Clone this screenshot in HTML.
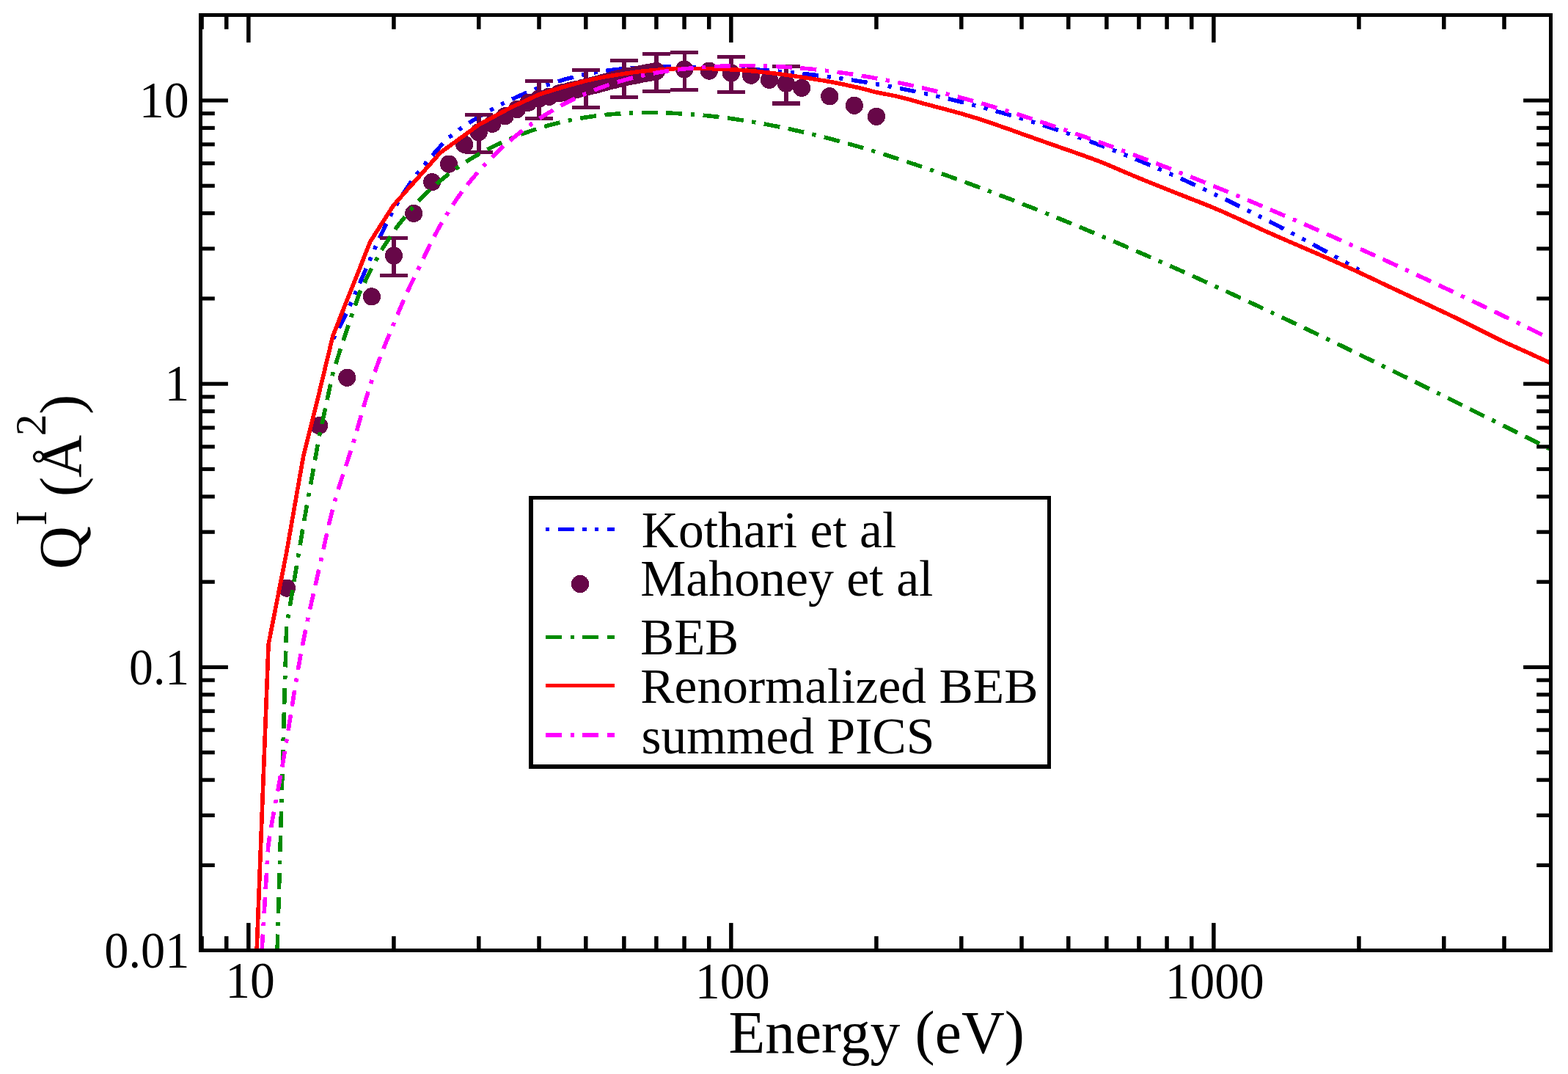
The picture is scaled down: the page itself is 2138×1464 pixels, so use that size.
<!DOCTYPE html>
<html lang="en"><head><meta charset="utf-8"><title>Ionization cross section</title>
<style>html,body{margin:0;padding:0;background:#fff;}svg{display:block;}text{font-family:'Liberation Serif',serif;fill:#000;}</style></head><body>
<svg width="2138" height="1464" viewBox="0 0 2138 1464">
<rect x="0" y="0" width="2138" height="1464" fill="#fff"/>
<defs><clipPath id="clip"><rect x="273.5" y="20.5" width="1841.0" height="1275.0"/></clipPath></defs>
<g clip-path="url(#clip)" fill="none" stroke-linejoin="round" stroke-linecap="butt" shape-rendering="crispEdges">
<path d="M454.5,462.0 L454.5,462.0 L458.5,454.7 L462.5,447.1 L466.5,439.1 L470.5,430.8 L474.5,422.2 L478.5,413.5 L482.5,404.5 L486.5,395.4 L490.5,386.2 L494.5,377.0 L498.5,367.7 L502.5,358.4 L506.5,349.3 L510.5,340.2 L514.5,331.2 L518.5,322.4 L522.5,313.9 L526.5,305.6 L530.5,297.6 L534.5,290.0 L538.5,282.7 L542.5,275.7 L546.5,269.1 L550.5,262.8 L554.5,256.7 L558.5,250.9 L562.5,245.4 L566.5,240.0 L570.5,234.8 L574.5,229.8 L578.5,224.9 L582.5,220.1 L586.5,215.4 L590.5,210.7 L594.5,206.1 L598.5,201.6 L602.5,197.2 L606.5,193.0 L610.5,189.1 L614.5,185.6 L618.5,182.3 L622.5,179.2 L626.5,176.4 L630.5,173.6 L634.5,170.9 L638.5,168.3 L642.5,165.7 L646.5,163.2 L650.5,160.7 L654.5,158.3 L658.5,156.0 L662.5,153.7 L666.5,151.4 L670.5,149.2 L674.5,147.0 L678.5,144.9 L682.5,142.9 L686.5,140.8 L690.5,138.9 L694.5,136.9 L698.5,135.1 L702.5,133.2 L706.5,131.4 L710.5,129.7 L714.5,127.9 L718.5,126.3 L722.5,124.6 L726.5,123.0 L730.5,121.5 L734.5,119.9 L738.5,118.5 L742.5,117.0 L746.5,115.6 L750.5,114.3 L754.5,113.0 L758.5,111.7 L762.5,110.5 L766.5,109.3 L770.5,108.1 L774.5,107.0 L778.5,106.0 L782.5,104.9 L786.5,104.0 L790.5,103.0 L794.5,102.1 L798.5,101.3 L802.5,100.5 L806.5,99.7 L810.5,99.0 L814.5,98.3 L818.5,97.6 L822.5,97.0 L826.5,96.4 L830.5,95.9 L834.5,95.4 L838.5,94.9 L842.5,94.5 L846.5,94.1 L850.5,93.7 L854.5,93.3 L858.5,93.0 L862.5,92.7 L866.5,92.5 L870.5,92.2 L874.5,92.0 L878.5,91.8 L882.5,91.7 L886.5,91.5 L890.5,91.4 L894.5,91.3 L898.5,91.2 L902.5,91.2 L906.5,91.1 L910.5,91.1 L914.5,91.1 L918.5,91.1 L922.5,91.1 L926.5,91.1 L930.5,91.2 L934.5,91.2 L938.5,91.3 L942.5,91.3 L946.5,91.4 L950.5,91.5 L954.5,91.6 L958.5,91.7 L962.5,91.8 L966.5,91.9 L970.5,92.1 L974.5,92.2 L978.5,92.3 L982.5,92.5 L986.5,92.6 L990.5,92.8 L994.5,93.0 L998.5,93.2 L1002.5,93.4 L1006.5,93.6 L1010.5,93.8 L1014.5,94.0 L1018.5,94.2 L1022.5,94.5 L1026.5,94.7 L1030.5,95.0 L1034.5,95.2 L1038.5,95.5 L1042.5,95.8 L1046.5,96.1 L1050.5,96.4 L1054.5,96.7 L1058.5,97.0 L1062.5,97.4 L1066.5,97.7 L1070.5,98.1 L1074.5,98.4 L1078.5,98.8 L1082.5,99.2 L1086.5,99.6 L1090.5,100.0 L1094.5,100.4 L1098.5,100.9 L1102.5,101.3 L1106.5,101.8 L1110.5,102.2 L1114.5,102.7 L1118.5,103.2 L1122.5,103.7 L1126.5,104.2 L1130.5,104.7 L1134.5,105.3 L1138.5,105.8 L1142.5,106.4 L1146.5,106.9 L1150.5,107.5 L1154.5,108.1 L1158.5,108.7 L1162.5,109.3 L1166.5,109.9 L1170.5,110.5 L1174.5,111.2 L1178.5,111.8 L1182.5,112.5 L1186.5,113.2 L1190.5,113.8 L1194.5,114.5 L1198.5,115.2 L1202.5,115.9 L1206.5,116.7 L1210.5,117.4 L1214.5,118.1 L1218.5,118.9 L1222.5,119.6 L1226.5,120.4 L1230.5,121.2 L1234.5,122.0 L1238.5,122.8 L1242.5,123.6 L1246.5,124.4 L1250.5,125.3 L1254.5,126.1 L1258.5,127.0 L1262.5,127.8 L1266.5,128.7 L1270.5,129.6 L1274.5,130.5 L1278.5,131.4 L1282.5,132.3 L1286.5,133.2 L1290.5,134.1 L1294.5,135.1 L1298.5,136.0 L1302.5,137.0 L1306.5,138.0 L1310.5,139.0 L1314.5,140.0 L1318.5,141.0 L1322.5,142.0 L1326.5,143.0 L1330.5,144.0 L1334.5,145.1 L1338.5,146.1 L1342.5,147.2 L1346.5,148.3 L1350.5,149.4 L1354.5,150.5 L1358.5,151.6 L1362.5,152.7 L1366.5,153.8 L1370.5,155.0 L1374.5,156.1 L1378.5,157.3 L1382.5,158.5 L1386.5,159.6 L1390.5,160.8 L1394.5,162.1 L1398.5,163.3 L1402.5,164.5 L1406.5,165.7 L1410.5,167.0 L1414.5,168.2 L1418.5,169.5 L1422.5,170.8 L1426.5,172.1 L1430.5,173.4 L1434.5,174.7 L1438.5,176.0 L1442.5,177.4 L1446.5,178.7 L1450.5,180.1 L1454.5,181.5 L1458.5,182.8 L1462.5,184.2 L1466.5,185.6 L1470.5,187.0 L1474.5,188.5 L1478.5,189.9 L1482.5,191.4 L1486.5,192.8 L1490.5,194.3 L1494.5,195.8 L1498.5,197.3 L1502.5,198.8 L1506.5,200.3 L1510.5,201.8 L1514.5,203.4 L1518.5,204.9 L1522.5,206.5 L1526.5,208.1 L1530.5,209.7 L1534.5,211.3 L1538.5,212.9 L1542.5,214.5 L1546.5,216.1 L1550.5,217.8 L1554.5,219.4 L1558.5,221.1 L1562.5,222.7 L1566.5,224.4 L1570.5,226.1 L1574.5,227.8 L1578.5,229.5 L1582.5,231.3 L1586.5,233.0 L1590.5,234.7 L1594.5,236.5 L1598.5,238.3 L1602.5,240.0 L1606.5,241.8 L1610.5,243.6 L1614.5,245.4 L1618.5,247.2 L1622.5,249.1 L1626.5,250.9 L1630.5,252.7 L1634.5,254.6 L1638.5,256.4 L1642.5,258.3 L1646.5,260.2 L1650.5,262.1 L1654.5,264.0 L1658.5,265.9 L1662.5,267.8 L1666.5,269.7 L1670.5,271.6 L1674.5,273.6 L1678.5,275.5 L1682.5,277.5 L1686.5,279.5 L1690.5,281.4 L1694.5,283.4 L1698.5,285.4 L1702.5,287.4 L1706.5,289.4 L1710.5,291.4 L1714.5,293.4 L1718.5,295.5 L1722.5,297.5 L1726.5,299.6 L1730.5,301.6 L1734.5,303.7 L1738.5,305.7 L1742.5,307.8 L1746.5,309.9 L1750.5,312.0 L1754.5,314.1 L1758.5,316.2 L1762.5,318.3 L1766.5,320.4 L1770.5,322.6 L1774.5,324.7 L1778.5,326.8 L1782.5,329.0 L1786.5,331.1 L1790.5,333.3 L1794.5,335.5 L1798.5,337.7 L1802.5,339.8 L1806.5,342.0 L1810.5,344.2 L1814.5,346.4 L1818.5,348.6 L1822.5,350.8 L1826.5,353.1 L1830.5,355.3 L1834.5,357.5 L1838.5,359.8 L1842.5,362.0 L1846.5,364.2 L1850.5,366.5 L1853.0,367.9" stroke="#0000ff" stroke-width="5.6" stroke-dasharray="5.20 11.59 21.99 11.59 5.20 11.59" stroke-dashoffset="0.0"/>
<g fill="#670748" stroke="none"><rect x="534.3" y="324.6" width="5.6" height="50.8"/><rect x="518.1" y="322.0" width="38" height="5.2"/><rect x="518.1" y="372.8" width="38" height="5.2"/><rect x="650.2" y="156.6" width="5.6" height="50.9"/><rect x="634.0" y="154.0" width="38" height="5.2"/><rect x="634.0" y="204.9" width="38" height="5.2"/><rect x="732.4" y="110.7" width="5.6" height="50.9"/><rect x="716.2" y="108.1" width="38" height="5.2"/><rect x="716.2" y="159.0" width="38" height="5.2"/><rect x="796.2" y="95.6" width="5.6" height="50.5"/><rect x="780.0" y="93.0" width="38" height="5.2"/><rect x="780.0" y="143.5" width="38" height="5.2"/><rect x="848.3" y="82.1" width="5.6" height="50.1"/><rect x="832.1" y="79.5" width="38" height="5.2"/><rect x="832.1" y="129.6" width="38" height="5.2"/><rect x="892.3" y="73.4" width="5.6" height="50.8"/><rect x="876.1" y="70.8" width="38" height="5.2"/><rect x="876.1" y="121.6" width="38" height="5.2"/><rect x="930.5" y="71.3" width="5.6" height="51.0"/><rect x="914.3" y="68.7" width="38" height="5.2"/><rect x="914.3" y="119.7" width="38" height="5.2"/><rect x="994.3" y="77.4" width="5.6" height="47.8"/><rect x="978.1" y="74.8" width="38" height="5.2"/><rect x="978.1" y="122.6" width="38" height="5.2"/><rect x="1069.2" y="90.5" width="5.6" height="50.5"/><rect x="1053.0" y="87.9" width="38" height="5.2"/><rect x="1053.0" y="138.4" width="38" height="5.2"/><circle cx="391.0" cy="801.6" r="12.1"/><circle cx="435.1" cy="580.2" r="12.1"/><circle cx="473.2" cy="514.8" r="12.1"/><circle cx="506.9" cy="404.3" r="12.1"/><circle cx="537.0" cy="348.5" r="12.1"/><circle cx="564.2" cy="290.9" r="12.1"/><circle cx="589.1" cy="248.1" r="12.1"/><circle cx="612.0" cy="223.6" r="12.1"/><circle cx="633.1" cy="196.8" r="12.1"/><circle cx="652.8" cy="180.2" r="12.1"/><circle cx="671.3" cy="168.8" r="12.1"/><circle cx="688.6" cy="158.4" r="12.1"/><circle cx="704.9" cy="149.0" r="12.1"/><circle cx="720.4" cy="139.8" r="12.1"/><circle cx="735.1" cy="134.3" r="12.1"/><circle cx="749.0" cy="131.7" r="12.1"/><circle cx="762.3" cy="127.3" r="12.1"/><circle cx="768.7" cy="125.8" r="12.1"/><circle cx="775.0" cy="124.4" r="12.1"/><circle cx="781.1" cy="123.0" r="12.1"/><circle cx="787.2" cy="121.7" r="12.1"/><circle cx="793.0" cy="120.3" r="12.1"/><circle cx="798.8" cy="119.0" r="12.1"/><circle cx="804.5" cy="117.5" r="12.1"/><circle cx="810.0" cy="116.1" r="12.1"/><circle cx="815.5" cy="114.7" r="12.1"/><circle cx="820.8" cy="113.3" r="12.1"/><circle cx="826.1" cy="111.9" r="12.1"/><circle cx="831.2" cy="110.5" r="12.1"/><circle cx="836.3" cy="109.2" r="12.1"/><circle cx="841.2" cy="107.9" r="12.1"/><circle cx="846.1" cy="106.7" r="12.1"/><circle cx="850.9" cy="105.4" r="12.1"/><circle cx="855.6" cy="104.5" r="12.1"/><circle cx="860.3" cy="103.6" r="12.1"/><circle cx="864.9" cy="102.7" r="12.1"/><circle cx="869.4" cy="101.9" r="12.1"/><circle cx="873.8" cy="101.0" r="12.1"/><circle cx="878.2" cy="100.2" r="12.1"/><circle cx="882.5" cy="99.4" r="12.1"/><circle cx="886.7" cy="98.6" r="12.1"/><circle cx="890.9" cy="97.8" r="12.1"/><circle cx="895.0" cy="97.0" r="12.1"/><circle cx="933.1" cy="94.6" r="12.1"/><circle cx="966.8" cy="96.6" r="12.1"/><circle cx="996.9" cy="99.6" r="12.1"/><circle cx="1024.1" cy="102.7" r="12.1"/><circle cx="1049.0" cy="108.9" r="12.1"/><circle cx="1071.9" cy="113.9" r="12.1"/><circle cx="1093.1" cy="119.9" r="12.1"/><circle cx="1131.2" cy="131.3" r="12.1"/><circle cx="1164.9" cy="143.8" r="12.1"/><circle cx="1195.0" cy="158.8" r="12.1"/></g>
<path d="M378.1,1295.5 L390.7,854.0 L413.6,716.0 L434.8,597.5 L454.5,506.0 L472.9,449.5 L490.2,399.2 L506.6,365.7 L522.0,338.1 L536.7,315.7 L536.7,315.7 L540.7,310.2 L544.7,304.9 L548.7,299.8 L552.7,294.8 L556.7,290.0 L560.7,285.3 L564.7,280.8 L568.7,276.4 L572.7,272.2 L576.7,268.1 L580.7,264.1 L584.7,260.3 L588.7,256.5 L592.7,252.9 L596.7,249.4 L600.7,246.1 L604.7,242.8 L608.7,239.6 L612.7,236.5 L616.7,233.5 L620.7,230.6 L624.7,227.8 L628.7,225.1 L632.7,222.4 L636.7,219.8 L640.7,217.3 L644.7,214.9 L648.7,212.5 L652.7,210.2 L656.7,208.0 L660.7,205.8 L664.7,203.7 L668.7,201.6 L672.7,199.6 L676.7,197.7 L680.7,195.8 L684.7,193.9 L688.7,192.1 L692.7,190.4 L696.7,188.7 L700.7,187.1 L704.7,185.5 L708.7,183.9 L712.7,182.4 L716.7,180.9 L720.7,179.5 L724.7,178.1 L728.7,176.8 L732.7,175.5 L736.7,174.3 L740.7,173.1 L744.7,171.9 L748.7,170.8 L752.7,169.7 L756.7,168.7 L760.7,167.7 L764.7,166.7 L768.7,165.8 L772.7,164.9 L776.7,164.0 L780.7,163.2 L784.7,162.5 L788.7,161.7 L792.7,161.0 L796.7,160.3 L800.7,159.7 L804.7,159.1 L808.7,158.5 L812.7,158.0 L816.7,157.5 L820.7,157.0 L824.7,156.6 L828.7,156.2 L832.7,155.8 L836.7,155.5 L840.7,155.2 L844.7,154.9 L848.7,154.6 L852.7,154.4 L856.7,154.2 L860.7,154.0 L864.7,153.9 L868.7,153.8 L872.7,153.7 L876.7,153.6 L880.7,153.6 L884.7,153.6 L888.7,153.6 L892.7,153.6 L896.7,153.7 L900.7,153.7 L904.7,153.8 L908.7,154.0 L912.7,154.1 L916.7,154.3 L920.7,154.5 L924.7,154.7 L928.7,154.9 L932.7,155.1 L936.7,155.4 L940.7,155.7 L944.7,156.0 L948.7,156.3 L952.7,156.7 L956.7,157.0 L960.7,157.4 L964.7,157.8 L968.7,158.2 L972.7,158.7 L976.7,159.1 L980.7,159.6 L984.7,160.1 L988.7,160.6 L992.7,161.1 L996.7,161.6 L1000.7,162.2 L1004.7,162.8 L1008.7,163.4 L1012.7,164.0 L1016.7,164.6 L1020.7,165.2 L1024.7,165.9 L1028.7,166.6 L1032.7,167.3 L1036.7,168.0 L1040.7,168.7 L1044.7,169.4 L1048.7,170.2 L1052.7,171.0 L1056.7,171.8 L1060.7,172.6 L1064.7,173.4 L1068.7,174.2 L1072.7,175.0 L1076.7,175.9 L1080.7,176.8 L1084.7,177.7 L1088.7,178.6 L1092.7,179.5 L1096.7,180.4 L1100.7,181.4 L1104.7,182.3 L1108.7,183.3 L1112.7,184.3 L1116.7,185.3 L1120.7,186.3 L1124.7,187.3 L1128.7,188.3 L1132.7,189.4 L1136.7,190.4 L1140.7,191.5 L1144.7,192.6 L1148.7,193.7 L1152.7,194.8 L1156.7,195.9 L1160.7,197.1 L1164.7,198.2 L1168.7,199.3 L1172.7,200.5 L1176.7,201.7 L1180.7,202.9 L1184.7,204.1 L1188.7,205.3 L1192.7,206.5 L1196.7,207.7 L1200.7,209.0 L1204.7,210.2 L1208.7,211.5 L1212.7,212.7 L1216.7,214.0 L1220.7,215.3 L1224.7,216.6 L1228.7,217.9 L1232.7,219.2 L1236.7,220.5 L1240.7,221.9 L1244.7,223.2 L1248.7,224.5 L1252.7,225.9 L1256.7,227.3 L1260.7,228.6 L1264.7,230.0 L1268.7,231.4 L1272.7,232.8 L1276.7,234.2 L1280.7,235.6 L1284.7,237.0 L1288.7,238.4 L1292.7,239.9 L1296.7,241.3 L1300.7,242.7 L1304.7,244.2 L1308.7,245.6 L1312.7,247.1 L1316.7,248.6 L1320.7,250.0 L1324.7,251.5 L1328.7,253.0 L1332.7,254.5 L1336.7,256.0 L1340.7,257.5 L1344.7,259.0 L1348.7,260.5 L1352.7,262.0 L1356.7,263.5 L1360.7,265.0 L1364.7,266.6 L1368.7,268.1 L1372.7,269.6 L1376.7,271.2 L1380.7,272.7 L1384.7,274.3 L1388.7,275.8 L1392.7,277.4 L1396.7,279.0 L1400.7,280.6 L1404.7,282.1 L1408.7,283.7 L1412.7,285.3 L1416.7,286.9 L1420.7,288.5 L1424.7,290.1 L1428.7,291.7 L1432.7,293.3 L1436.7,294.9 L1440.7,296.6 L1444.7,298.2 L1448.7,299.8 L1452.7,301.4 L1456.7,303.1 L1460.7,304.7 L1464.7,306.4 L1468.7,308.0 L1472.7,309.7 L1476.7,311.3 L1480.7,313.0 L1484.7,314.7 L1488.7,316.4 L1492.7,318.0 L1496.7,319.7 L1500.7,321.4 L1504.7,323.1 L1508.7,324.8 L1512.7,326.5 L1516.7,328.2 L1520.7,329.9 L1524.7,331.6 L1528.7,333.3 L1532.7,335.0 L1536.7,336.8 L1540.7,338.5 L1544.7,340.2 L1548.7,342.0 L1552.7,343.7 L1556.7,345.4 L1560.7,347.2 L1564.7,348.9 L1568.7,350.7 L1572.7,352.4 L1576.7,354.2 L1580.7,356.0 L1584.7,357.7 L1588.7,359.5 L1592.7,361.3 L1596.7,363.1 L1600.7,364.8 L1604.7,366.6 L1608.7,368.4 L1612.7,370.2 L1616.7,372.0 L1620.7,373.8 L1624.7,375.6 L1628.7,377.4 L1632.7,379.2 L1636.7,381.0 L1640.7,382.8 L1644.7,384.7 L1648.7,386.5 L1652.7,388.3 L1656.7,390.1 L1660.7,392.0 L1664.7,393.8 L1668.7,395.6 L1672.7,397.5 L1676.7,399.3 L1680.7,401.2 L1684.7,403.0 L1688.7,404.9 L1692.7,406.7 L1696.7,408.6 L1700.7,410.4 L1704.7,412.3 L1708.7,414.2 L1712.7,416.0 L1716.7,417.9 L1720.7,419.8 L1724.7,421.6 L1728.7,423.5 L1732.7,425.4 L1736.7,427.3 L1740.7,429.2 L1744.7,431.1 L1748.7,433.0 L1752.7,434.8 L1756.7,436.7 L1760.7,438.6 L1764.7,440.5 L1768.7,442.4 L1772.7,444.4 L1776.7,446.3 L1780.7,448.2 L1784.7,450.1 L1788.7,452.0 L1792.7,453.9 L1796.7,455.8 L1800.7,457.7 L1804.7,459.7 L1808.7,461.6 L1812.7,463.5 L1816.7,465.4 L1820.7,467.4 L1824.7,469.3 L1828.7,471.2 L1832.7,473.2 L1836.7,475.1 L1840.7,477.1 L1844.7,479.0 L1848.7,480.9 L1852.7,482.9 L1856.7,484.8 L1860.7,486.8 L1864.7,488.7 L1868.7,490.7 L1872.7,492.6 L1876.7,494.6 L1880.7,496.5 L1884.7,498.5 L1888.7,500.5 L1892.7,502.4 L1896.7,504.4 L1900.7,506.4 L1904.7,508.3 L1908.7,510.3 L1912.7,512.3 L1916.7,514.2 L1920.7,516.2 L1924.7,518.2 L1928.7,520.1 L1932.7,522.1 L1936.7,524.1 L1940.7,526.1 L1944.7,528.0 L1948.7,530.0 L1952.7,532.0 L1956.7,534.0 L1960.7,536.0 L1964.7,537.9 L1968.7,539.9 L1972.7,541.9 L1976.7,543.9 L1980.7,545.9 L1984.7,547.9 L1988.7,549.8 L1992.7,551.8 L1996.7,553.8 L2000.7,555.8 L2004.7,557.8 L2008.7,559.8 L2012.7,561.8 L2016.7,563.8 L2020.7,565.8 L2024.7,567.8 L2028.7,569.8 L2032.7,571.7 L2036.7,573.7 L2040.7,575.7 L2044.7,577.7 L2048.7,579.7 L2052.7,581.7 L2056.7,583.7 L2060.7,585.7 L2064.7,587.7 L2068.7,589.7 L2072.7,591.7 L2076.7,593.7 L2080.7,595.7 L2084.7,597.7 L2088.7,599.7 L2092.7,601.7 L2096.7,603.7 L2100.7,605.7 L2104.7,607.7 L2108.7,609.7 L2112.7,611.7 L2114.5,612.6" stroke="#008b00" stroke-width="5.6" stroke-dasharray="21.99 11.59 5.20 11.59 21.99 11.59" stroke-dashoffset="0.0"/>
<path d="M350.1,1295.5 L366.1,878.1 L390.7,753.0 L413.6,622.3 L434.8,537.0 L454.0,457.5 L505.0,329.1 L536.5,279.9 L600.4,208.1 L652.5,170.4 L696.6,146.5 L734.7,128.9 L768.4,118.5 L798.5,110.3 L798.5,110.3 L802.5,109.4 L806.5,108.5 L810.5,107.6 L814.5,106.8 L818.5,105.9 L822.5,105.2 L826.5,104.4 L830.5,103.7 L834.5,103.0 L838.5,102.4 L842.5,101.8 L846.5,101.2 L850.5,100.6 L854.5,100.0 L858.5,99.4 L862.5,98.8 L866.5,98.3 L870.5,97.7 L874.5,97.3 L878.5,96.9 L882.5,96.5 L886.5,96.2 L890.5,95.8 L894.5,95.5 L898.5,95.2 L902.5,94.8 L906.5,94.4 L910.5,94.1 L914.5,93.9 L918.5,93.8 L922.5,93.6 L926.5,93.5 L930.5,93.5 L934.5,93.5 L938.5,93.5 L942.5,93.5 L946.5,93.5 L950.5,93.5 L954.5,93.5 L958.5,93.5 L962.5,93.5 L966.5,93.6 L970.5,93.7 L974.5,93.8 L978.5,94.0 L982.5,94.1 L986.5,94.3 L990.5,94.4 L994.5,94.7 L998.5,94.9 L1002.5,95.1 L1006.5,95.3 L1010.5,95.6 L1014.5,95.9 L1018.5,96.2 L1022.5,96.6 L1026.5,96.9 L1030.5,97.3 L1034.5,97.7 L1038.5,98.1 L1042.5,98.5 L1046.5,99.0 L1050.5,99.4 L1054.5,99.9 L1058.5,100.4 L1062.5,100.9 L1066.5,101.4 L1070.5,101.9 L1074.5,102.5 L1078.5,103.1 L1082.5,103.6 L1086.5,104.2 L1090.5,104.8 L1094.5,105.4 L1098.5,106.0 L1102.5,106.6 L1106.5,107.2 L1110.5,107.9 L1114.5,108.5 L1118.5,109.2 L1122.5,109.8 L1126.5,110.5 L1130.5,111.2 L1134.5,111.9 L1138.5,112.7 L1142.5,113.5 L1146.5,114.3 L1150.5,115.1 L1154.5,116.0 L1158.5,116.9 L1162.5,117.8 L1166.5,118.7 L1170.5,119.6 L1174.5,120.6 L1178.5,121.5 L1182.5,122.5 L1186.5,123.6 L1190.5,124.7 L1194.5,125.7 L1198.5,126.5 L1202.5,127.3 L1206.5,128.1 L1210.5,128.8 L1214.5,129.6 L1218.5,130.4 L1222.5,131.3 L1226.5,132.2 L1230.5,133.2 L1234.5,134.2 L1238.5,135.3 L1242.5,136.4 L1246.5,137.5 L1250.5,138.6 L1254.5,139.7 L1258.5,140.9 L1262.5,142.0 L1266.5,143.1 L1270.5,144.1 L1274.5,145.2 L1278.5,146.2 L1282.5,147.3 L1286.5,148.3 L1290.5,149.4 L1294.5,150.4 L1298.5,151.5 L1302.5,152.6 L1306.5,153.7 L1310.5,154.8 L1314.5,156.0 L1318.5,157.2 L1322.5,158.4 L1326.5,159.6 L1330.5,160.8 L1334.5,162.1 L1338.5,163.4 L1342.5,164.7 L1346.5,166.0 L1350.5,167.4 L1354.5,168.8 L1358.5,170.1 L1362.5,171.5 L1366.5,172.9 L1370.5,174.3 L1374.5,175.7 L1378.5,177.1 L1382.5,178.6 L1386.5,180.0 L1390.5,181.4 L1394.5,182.9 L1398.5,184.3 L1402.5,185.7 L1406.5,187.1 L1410.5,188.6 L1414.5,190.0 L1418.5,191.4 L1422.5,192.8 L1426.5,194.2 L1430.5,195.6 L1434.5,197.0 L1438.5,198.4 L1442.5,199.8 L1446.5,201.2 L1450.5,202.6 L1454.5,204.0 L1458.5,205.4 L1462.5,206.8 L1466.5,208.2 L1470.5,209.6 L1474.5,211.0 L1478.5,212.4 L1482.5,213.9 L1486.5,215.3 L1490.5,216.8 L1494.5,218.3 L1498.5,219.8 L1502.5,221.4 L1506.5,223.0 L1510.5,224.7 L1514.5,226.4 L1518.5,228.1 L1522.5,229.8 L1526.5,231.5 L1530.5,233.2 L1534.5,234.9 L1538.5,236.6 L1542.5,238.3 L1546.5,240.0 L1550.5,241.7 L1554.5,243.3 L1558.5,244.9 L1562.5,246.6 L1566.5,248.2 L1570.5,249.8 L1574.5,251.4 L1578.5,253.0 L1582.5,254.6 L1586.5,256.2 L1590.5,257.8 L1594.5,259.4 L1598.5,261.0 L1602.5,262.6 L1606.5,264.2 L1610.5,265.7 L1614.5,267.3 L1618.5,268.9 L1622.5,270.5 L1626.5,272.1 L1630.5,273.6 L1634.5,275.1 L1638.5,276.7 L1642.5,278.3 L1646.5,279.9 L1650.5,281.5 L1654.5,283.2 L1658.5,284.9 L1662.5,286.6 L1666.5,288.3 L1670.5,290.1 L1674.5,291.9 L1678.5,293.7 L1682.5,295.5 L1686.5,297.3 L1690.5,299.1 L1694.5,301.0 L1698.5,302.8 L1702.5,304.6 L1706.5,306.5 L1710.5,308.3 L1714.5,310.1 L1718.5,312.0 L1722.5,313.8 L1726.5,315.6 L1730.5,317.4 L1734.5,319.1 L1738.5,320.9 L1742.5,322.6 L1746.5,324.4 L1750.5,326.1 L1754.5,327.8 L1758.5,329.6 L1762.5,331.3 L1766.5,333.0 L1770.5,334.7 L1774.5,336.5 L1778.5,338.2 L1782.5,339.9 L1786.5,341.6 L1790.5,343.4 L1794.5,345.1 L1798.5,346.8 L1802.5,348.6 L1806.5,350.4 L1810.5,352.1 L1814.5,353.9 L1818.5,355.7 L1822.5,357.5 L1826.5,359.3 L1830.5,361.1 L1834.5,362.9 L1838.5,364.7 L1842.5,366.5 L1846.5,368.3 L1850.5,370.2 L1854.5,372.0 L1858.5,373.9 L1862.5,375.8 L1866.5,377.6 L1870.5,379.5 L1874.5,381.4 L1878.5,383.3 L1882.5,385.2 L1886.5,387.1 L1890.5,389.0 L1894.5,390.9 L1898.5,392.8 L1902.5,394.6 L1906.5,396.5 L1910.5,398.4 L1914.5,400.2 L1918.5,402.1 L1922.5,404.0 L1926.5,405.8 L1930.5,407.7 L1934.5,409.5 L1938.5,411.4 L1942.5,413.3 L1946.5,415.1 L1950.5,417.0 L1954.5,418.9 L1958.5,420.7 L1962.5,422.6 L1966.5,424.5 L1970.5,426.4 L1974.5,428.3 L1978.5,430.2 L1982.5,432.1 L1986.5,434.0 L1990.5,436.0 L1994.5,438.0 L1998.5,439.9 L2002.5,441.9 L2006.5,443.9 L2010.5,446.0 L2014.5,448.0 L2018.5,450.0 L2022.5,452.0 L2026.5,454.0 L2030.5,456.0 L2034.5,458.0 L2038.5,460.0 L2042.5,462.0 L2046.5,463.9 L2050.5,465.8 L2054.5,467.7 L2058.5,469.5 L2062.5,471.3 L2066.5,473.1 L2070.5,474.9 L2074.5,476.7 L2078.5,478.5 L2082.5,480.3 L2086.5,482.1 L2090.5,484.0 L2094.5,485.8 L2098.5,487.6 L2102.5,489.4 L2106.5,491.3 L2110.5,493.1 L2114.5,494.9 L2114.5,494.9" stroke="#ff0000" stroke-width="5.6"/>
<path d="M357.1,1295.5 L365.8,1152.0 L365.8,1152.0 L369.8,1127.1 L373.8,1104.4 L377.8,1083.0 L381.8,1061.6 L385.8,1039.3 L389.8,1015.7 L393.8,990.9 L397.8,965.4 L401.8,940.1 L405.8,916.1 L409.8,893.7 L413.8,872.8 L417.8,853.0 L421.8,834.3 L425.8,816.2 L429.8,798.6 L433.8,781.0 L437.8,763.1 L441.8,744.9 L445.8,726.6 L449.8,709.0 L453.8,692.9 L457.8,678.4 L461.8,665.1 L465.8,652.6 L469.8,640.5 L473.8,628.6 L477.8,616.3 L481.8,603.3 L485.8,589.6 L489.8,575.6 L493.8,561.5 L497.8,547.7 L501.8,534.7 L505.8,522.3 L509.8,510.6 L513.8,499.4 L517.8,488.6 L521.8,478.3 L525.8,468.2 L529.8,458.4 L533.8,448.7 L537.8,439.0 L541.8,429.3 L545.8,419.8 L549.8,410.4 L553.8,401.4 L557.8,392.7 L561.8,384.3 L565.8,376.2 L569.8,368.1 L573.8,359.8 L577.8,351.3 L581.8,342.8 L585.8,334.6 L589.8,326.6 L593.8,319.0 L597.8,311.7 L601.8,304.6 L605.8,297.7 L609.8,291.2 L613.8,284.8 L617.8,278.7 L621.8,272.8 L625.8,267.1 L629.8,261.6 L633.8,256.3 L637.8,251.2 L641.8,246.3 L645.8,241.5 L649.8,236.8 L653.8,232.3 L657.8,227.9 L661.8,223.6 L665.8,219.5 L669.8,215.4 L673.8,211.4 L677.8,207.6 L681.8,203.8 L685.8,200.1 L689.8,196.6 L693.8,193.1 L697.8,189.7 L701.8,186.4 L705.8,183.1 L709.8,180.0 L713.8,176.9 L717.8,174.0 L721.8,171.1 L725.8,168.2 L729.8,165.5 L733.8,162.8 L737.8,160.2 L741.8,157.6 L745.8,155.1 L749.8,152.7 L753.8,150.3 L757.8,148.0 L761.8,145.7 L765.8,143.5 L769.8,141.4 L773.8,139.3 L777.8,137.3 L781.8,135.3 L785.8,133.4 L789.8,131.5 L793.8,129.7 L797.8,128.0 L801.8,126.3 L805.8,124.6 L809.8,123.0 L813.8,121.4 L817.8,119.9 L821.8,118.5 L825.8,117.1 L829.8,115.7 L833.8,114.4 L837.8,113.1 L841.8,111.9 L845.8,110.7 L849.8,109.5 L853.8,108.4 L857.8,107.3 L861.8,106.3 L865.8,105.3 L869.8,104.4 L873.8,103.5 L877.8,102.6 L881.8,101.7 L885.8,100.9 L889.8,100.2 L893.8,99.4 L897.8,98.7 L901.8,98.1 L905.8,97.4 L909.8,96.8 L913.8,96.2 L917.8,95.7 L921.8,95.2 L925.8,94.7 L929.8,94.2 L933.8,93.8 L937.8,93.4 L941.8,93.0 L945.8,92.6 L949.8,92.3 L953.8,91.9 L957.8,91.6 L961.8,91.4 L965.8,91.1 L969.8,90.9 L973.8,90.7 L977.8,90.5 L981.8,90.3 L985.8,90.1 L989.8,90.0 L993.8,89.9 L997.8,89.8 L1001.8,89.7 L1005.8,89.6 L1009.8,89.6 L1013.8,89.6 L1017.8,89.6 L1021.8,89.6 L1025.8,89.6 L1029.8,89.7 L1033.8,89.8 L1037.8,89.9 L1041.8,90.0 L1045.8,90.1 L1049.8,90.2 L1053.8,90.4 L1057.8,90.6 L1061.8,90.8 L1065.8,91.0 L1069.8,91.2 L1073.8,91.5 L1077.8,91.8 L1081.8,92.1 L1085.8,92.4 L1089.8,92.7 L1093.8,93.0 L1097.8,93.4 L1101.8,93.7 L1105.8,94.1 L1109.8,94.5 L1113.8,95.0 L1117.8,95.4 L1121.8,95.8 L1125.8,96.3 L1129.8,96.8 L1133.8,97.3 L1137.8,97.8 L1141.8,98.3 L1145.8,98.9 L1149.8,99.4 L1153.8,100.0 L1157.8,100.6 L1161.8,101.2 L1165.8,101.8 L1169.8,102.5 L1173.8,103.1 L1177.8,103.8 L1181.8,104.5 L1185.8,105.1 L1189.8,105.9 L1193.8,106.6 L1197.8,107.3 L1201.8,108.1 L1205.8,108.8 L1209.8,109.6 L1213.8,110.4 L1217.8,111.2 L1221.8,112.0 L1225.8,112.8 L1229.8,113.7 L1233.8,114.5 L1237.8,115.4 L1241.8,116.3 L1245.8,117.1 L1249.8,118.0 L1253.8,119.0 L1257.8,119.9 L1261.8,120.8 L1265.8,121.8 L1269.8,122.7 L1273.8,123.7 L1277.8,124.7 L1281.8,125.7 L1285.8,126.7 L1289.8,127.7 L1293.8,128.8 L1297.8,129.8 L1301.8,130.8 L1305.8,131.9 L1309.8,133.0 L1313.8,134.1 L1317.8,135.2 L1321.8,136.3 L1325.8,137.4 L1329.8,138.5 L1333.8,139.6 L1337.8,140.8 L1341.8,141.9 L1345.8,143.1 L1349.8,144.3 L1353.8,145.5 L1357.8,146.7 L1361.8,147.9 L1365.8,149.1 L1369.8,150.3 L1373.8,151.5 L1377.8,152.7 L1381.8,154.0 L1385.8,155.2 L1389.8,156.5 L1393.8,157.8 L1397.8,159.1 L1401.8,160.3 L1405.8,161.6 L1409.8,162.9 L1413.8,164.3 L1417.8,165.6 L1421.8,166.9 L1425.8,168.2 L1429.8,169.6 L1433.8,170.9 L1437.8,172.3 L1441.8,173.6 L1445.8,175.0 L1449.8,176.4 L1453.8,177.7 L1457.8,179.1 L1461.8,180.5 L1465.8,181.9 L1469.8,183.3 L1473.8,184.7 L1477.8,186.1 L1481.8,187.6 L1485.8,189.0 L1489.8,190.4 L1493.8,191.9 L1497.8,193.3 L1501.8,194.8 L1505.8,196.2 L1509.8,197.7 L1513.8,199.1 L1517.8,200.6 L1521.8,202.1 L1525.8,203.6 L1529.8,205.0 L1533.8,206.5 L1537.8,208.0 L1541.8,209.5 L1545.8,211.0 L1549.8,212.5 L1553.8,214.0 L1557.8,215.5 L1561.8,217.1 L1565.8,218.6 L1569.8,220.1 L1573.8,221.7 L1577.8,223.2 L1581.8,224.7 L1585.8,226.3 L1589.8,227.8 L1593.8,229.4 L1597.8,230.9 L1601.8,232.5 L1605.8,234.1 L1609.8,235.7 L1613.8,237.2 L1617.8,238.8 L1621.8,240.4 L1625.8,242.0 L1629.8,243.6 L1633.8,245.2 L1637.8,246.8 L1641.8,248.4 L1645.8,250.0 L1649.8,251.6 L1653.8,253.2 L1657.8,254.9 L1661.8,256.5 L1665.8,258.1 L1669.8,259.8 L1673.8,261.4 L1677.8,263.0 L1681.8,264.7 L1685.8,266.3 L1689.8,268.0 L1693.8,269.6 L1697.8,271.3 L1701.8,273.0 L1705.8,274.6 L1709.8,276.3 L1713.8,278.0 L1717.8,279.7 L1721.8,281.4 L1725.8,283.1 L1729.8,284.8 L1733.8,286.5 L1737.8,288.2 L1741.8,289.9 L1745.8,291.6 L1749.8,293.3 L1753.8,295.0 L1757.8,296.7 L1761.8,298.4 L1765.8,300.2 L1769.8,301.9 L1773.8,303.6 L1777.8,305.4 L1781.8,307.1 L1785.8,308.8 L1789.8,310.6 L1793.8,312.3 L1797.8,314.1 L1801.8,315.9 L1805.8,317.6 L1809.8,319.4 L1813.8,321.1 L1817.8,322.9 L1821.8,324.7 L1825.8,326.5 L1829.8,328.2 L1833.8,330.0 L1837.8,331.8 L1841.8,333.6 L1845.8,335.4 L1849.8,337.2 L1853.8,339.0 L1857.8,340.8 L1861.8,342.6 L1865.8,344.4 L1869.8,346.2 L1873.8,348.0 L1877.8,349.9 L1881.8,351.7 L1885.8,353.5 L1889.8,355.3 L1893.8,357.2 L1897.8,359.0 L1901.8,360.8 L1905.8,362.7 L1909.8,364.5 L1913.8,366.4 L1917.8,368.2 L1921.8,370.0 L1925.8,371.9 L1929.8,373.8 L1933.8,375.6 L1937.8,377.5 L1941.8,379.3 L1945.8,381.2 L1949.8,383.1 L1953.8,384.9 L1957.8,386.8 L1961.8,388.7 L1965.8,390.6 L1969.8,392.5 L1973.8,394.3 L1977.8,396.2 L1981.8,398.1 L1985.8,400.0 L1989.8,401.9 L1993.8,403.8 L1997.8,405.7 L2001.8,407.6 L2005.8,409.5 L2009.8,411.4 L2013.8,413.3 L2017.8,415.2 L2021.8,417.1 L2025.8,419.0 L2029.8,421.0 L2033.8,422.9 L2037.8,424.8 L2041.8,426.7 L2045.8,428.6 L2049.8,430.6 L2053.8,432.5 L2057.8,434.4 L2061.8,436.4 L2065.8,438.3 L2069.8,440.2 L2073.8,442.2 L2077.8,444.1 L2081.8,446.1 L2085.8,448.0 L2089.8,450.0 L2093.8,451.9 L2097.8,453.9 L2101.8,455.8 L2105.8,457.8 L2109.8,459.7 L2113.8,461.7 L2114.5,462.0" stroke="#ff00ff" stroke-width="5.6" stroke-dasharray="21.99 11.59 5.20 11.59 21.99 11.59" stroke-dashoffset="0.0"/>
</g>
<g fill="#000" stroke="none">
<rect x="271.00" y="18.00" width="1846.00" height="5.00"/>
<rect x="271.00" y="1293.00" width="1846.00" height="5.00"/>
<rect x="271.00" y="18.00" width="5.00" height="1280.00"/>
<rect x="2112.00" y="18.00" width="5.00" height="1280.00"/>
<rect x="272.33" y="18.00" width="5.50" height="21.80"/>
<rect x="272.33" y="1276.20" width="5.50" height="21.80"/>
<rect x="305.99" y="18.00" width="5.50" height="21.80"/>
<rect x="305.99" y="1276.20" width="5.50" height="21.80"/>
<rect x="336.10" y="18.00" width="5.50" height="39.90"/>
<rect x="336.10" y="1258.10" width="5.50" height="39.90"/>
<rect x="534.18" y="18.00" width="5.50" height="21.80"/>
<rect x="534.18" y="1276.20" width="5.50" height="21.80"/>
<rect x="650.05" y="18.00" width="5.50" height="21.80"/>
<rect x="650.05" y="1276.20" width="5.50" height="21.80"/>
<rect x="732.26" y="18.00" width="5.50" height="21.80"/>
<rect x="732.26" y="1276.20" width="5.50" height="21.80"/>
<rect x="796.02" y="18.00" width="5.50" height="21.80"/>
<rect x="796.02" y="1276.20" width="5.50" height="21.80"/>
<rect x="848.12" y="18.00" width="5.50" height="21.80"/>
<rect x="848.12" y="1276.20" width="5.50" height="21.80"/>
<rect x="892.17" y="18.00" width="5.50" height="21.80"/>
<rect x="892.17" y="1276.20" width="5.50" height="21.80"/>
<rect x="930.33" y="18.00" width="5.50" height="21.80"/>
<rect x="930.33" y="1276.20" width="5.50" height="21.80"/>
<rect x="963.99" y="18.00" width="5.50" height="21.80"/>
<rect x="963.99" y="1276.20" width="5.50" height="21.80"/>
<rect x="994.10" y="18.00" width="5.50" height="39.90"/>
<rect x="994.10" y="1258.10" width="5.50" height="39.90"/>
<rect x="1192.18" y="18.00" width="5.50" height="21.80"/>
<rect x="1192.18" y="1276.20" width="5.50" height="21.80"/>
<rect x="1308.05" y="18.00" width="5.50" height="21.80"/>
<rect x="1308.05" y="1276.20" width="5.50" height="21.80"/>
<rect x="1390.26" y="18.00" width="5.50" height="21.80"/>
<rect x="1390.26" y="1276.20" width="5.50" height="21.80"/>
<rect x="1454.02" y="18.00" width="5.50" height="21.80"/>
<rect x="1454.02" y="1276.20" width="5.50" height="21.80"/>
<rect x="1506.12" y="18.00" width="5.50" height="21.80"/>
<rect x="1506.12" y="1276.20" width="5.50" height="21.80"/>
<rect x="1550.17" y="18.00" width="5.50" height="21.80"/>
<rect x="1550.17" y="1276.20" width="5.50" height="21.80"/>
<rect x="1588.33" y="18.00" width="5.50" height="21.80"/>
<rect x="1588.33" y="1276.20" width="5.50" height="21.80"/>
<rect x="1621.99" y="18.00" width="5.50" height="21.80"/>
<rect x="1621.99" y="1276.20" width="5.50" height="21.80"/>
<rect x="1652.10" y="18.00" width="5.50" height="39.90"/>
<rect x="1652.10" y="1258.10" width="5.50" height="39.90"/>
<rect x="1850.18" y="18.00" width="5.50" height="21.80"/>
<rect x="1850.18" y="1276.20" width="5.50" height="21.80"/>
<rect x="1966.05" y="18.00" width="5.50" height="21.80"/>
<rect x="1966.05" y="1276.20" width="5.50" height="21.80"/>
<rect x="2048.26" y="18.00" width="5.50" height="21.80"/>
<rect x="2048.26" y="1276.20" width="5.50" height="21.80"/>
<rect x="271.00" y="1176.83" width="21.80" height="5.20"/>
<rect x="2095.20" y="1176.83" width="21.80" height="5.20"/>
<rect x="271.00" y="1108.82" width="21.80" height="5.20"/>
<rect x="2095.20" y="1108.82" width="21.80" height="5.20"/>
<rect x="271.00" y="1060.56" width="21.80" height="5.20"/>
<rect x="2095.20" y="1060.56" width="21.80" height="5.20"/>
<rect x="271.00" y="1023.13" width="21.80" height="5.20"/>
<rect x="2095.20" y="1023.13" width="21.80" height="5.20"/>
<rect x="271.00" y="992.55" width="21.80" height="5.20"/>
<rect x="2095.20" y="992.55" width="21.80" height="5.20"/>
<rect x="271.00" y="966.69" width="21.80" height="5.20"/>
<rect x="2095.20" y="966.69" width="21.80" height="5.20"/>
<rect x="271.00" y="944.29" width="21.80" height="5.20"/>
<rect x="2095.20" y="944.29" width="21.80" height="5.20"/>
<rect x="271.00" y="924.53" width="21.80" height="5.20"/>
<rect x="2095.20" y="924.53" width="21.80" height="5.20"/>
<rect x="271.00" y="906.86" width="39.90" height="5.20"/>
<rect x="2077.10" y="906.86" width="39.90" height="5.20"/>
<rect x="271.00" y="790.59" width="21.80" height="5.20"/>
<rect x="2095.20" y="790.59" width="21.80" height="5.20"/>
<rect x="271.00" y="722.58" width="21.80" height="5.20"/>
<rect x="2095.20" y="722.58" width="21.80" height="5.20"/>
<rect x="271.00" y="674.32" width="21.80" height="5.20"/>
<rect x="2095.20" y="674.32" width="21.80" height="5.20"/>
<rect x="271.00" y="636.89" width="21.80" height="5.20"/>
<rect x="2095.20" y="636.89" width="21.80" height="5.20"/>
<rect x="271.00" y="606.31" width="21.80" height="5.20"/>
<rect x="2095.20" y="606.31" width="21.80" height="5.20"/>
<rect x="271.00" y="580.45" width="21.80" height="5.20"/>
<rect x="2095.20" y="580.45" width="21.80" height="5.20"/>
<rect x="271.00" y="558.05" width="21.80" height="5.20"/>
<rect x="2095.20" y="558.05" width="21.80" height="5.20"/>
<rect x="271.00" y="538.29" width="21.80" height="5.20"/>
<rect x="2095.20" y="538.29" width="21.80" height="5.20"/>
<rect x="271.00" y="520.62" width="39.90" height="5.20"/>
<rect x="2077.10" y="520.62" width="39.90" height="5.20"/>
<rect x="271.00" y="404.35" width="21.80" height="5.20"/>
<rect x="2095.20" y="404.35" width="21.80" height="5.20"/>
<rect x="271.00" y="336.34" width="21.80" height="5.20"/>
<rect x="2095.20" y="336.34" width="21.80" height="5.20"/>
<rect x="271.00" y="288.08" width="21.80" height="5.20"/>
<rect x="2095.20" y="288.08" width="21.80" height="5.20"/>
<rect x="271.00" y="250.65" width="21.80" height="5.20"/>
<rect x="2095.20" y="250.65" width="21.80" height="5.20"/>
<rect x="271.00" y="220.07" width="21.80" height="5.20"/>
<rect x="2095.20" y="220.07" width="21.80" height="5.20"/>
<rect x="271.00" y="194.21" width="21.80" height="5.20"/>
<rect x="2095.20" y="194.21" width="21.80" height="5.20"/>
<rect x="271.00" y="171.81" width="21.80" height="5.20"/>
<rect x="2095.20" y="171.81" width="21.80" height="5.20"/>
<rect x="271.00" y="152.05" width="21.80" height="5.20"/>
<rect x="2095.20" y="152.05" width="21.80" height="5.20"/>
<rect x="271.00" y="134.38" width="39.90" height="5.20"/>
<rect x="2077.10" y="134.38" width="39.90" height="5.20"/>
</g>
<text transform="translate(189.81,159.54) scale(0.9701,1.0015)" font-size="70">10</text>
<text transform="translate(224.50,546.00) scale(0.9650,1.0030)" font-size="70">1</text>
<text transform="translate(176.08,932.54) scale(0.9379,1.0058)" font-size="70">0.1</text>
<text transform="translate(142.36,1318.72) scale(0.9472,1.0118)" font-size="70">0.01</text>
<text transform="translate(307.13,1360.44) scale(0.9668,1.0036)" font-size="70">10</text>
<text transform="translate(947.69,1360.74) scale(0.9726,1.0100)" font-size="70">100</text>
<text transform="translate(1588.85,1360.54) scale(0.9632,1.0036)" font-size="70">1000</text>
<text transform="translate(993.44,1434.97) scale(1.0059,1.0077)" font-size="81">Energy (eV)</text>
<text transform="rotate(-90)" font-size="81" xml:space="preserve"><tspan x="-775.90" y="110.30" font-size="81.46">Q</tspan><tspan x="-716.59" y="63.08" font-size="61.06">I</tspan><tspan font-size="20"> </tspan><tspan x="-676.95" y="109.80" font-size="81.19">(</tspan><tspan x="-651.10" y="110.60" font-size="80.59">Å</tspan><tspan x="-594.33" y="62.13" font-size="59.66">2</tspan><tspan x="-564.81" y="109.77" font-size="81.04">)</tspan></text>
<rect x="721" y="676" width="712" height="372" fill="#000"/><rect x="727" y="681" width="701" height="361" fill="#fff"/>
<g fill="none" shape-rendering="crispEdges" stroke-width="5.4">
<path d="M744,721.5 H838" stroke="#0000ff" stroke-dasharray="5.20 11.59 21.99 11.59 5.20 11.59"/>
<path d="M744,868.5 H838" stroke="#008b00" stroke-dasharray="21.99 11.59 5.20 11.59 21.99 11.59"/>
<path d="M744,934.5 H838" stroke="#ff0000"/>
<path d="M744,1002 H838" stroke="#ff00ff" stroke-dasharray="21.99 11.59 5.20 11.59 21.99 11.59"/>
</g>
<circle cx="791" cy="796" r="12.1" fill="#670748" shape-rendering="crispEdges"/>
<text transform="translate(874.79,745.52) scale(0.9933,0.9882)" font-size="70">Kothari et al</text>
<text transform="translate(873.19,812.26) scale(0.9975,0.9828)" font-size="70">Mahoney et al</text>
<text transform="translate(873.23,891.90) scale(0.9838,0.9978)" font-size="70">BEB</text>
<text transform="translate(873.21,958.14) scale(0.9931,0.9641)" font-size="70">Renormalized BEB</text>
<text transform="translate(874.52,1027.11) scale(0.9934,0.9901)" font-size="70">summed PICS</text>
</svg></body></html>
